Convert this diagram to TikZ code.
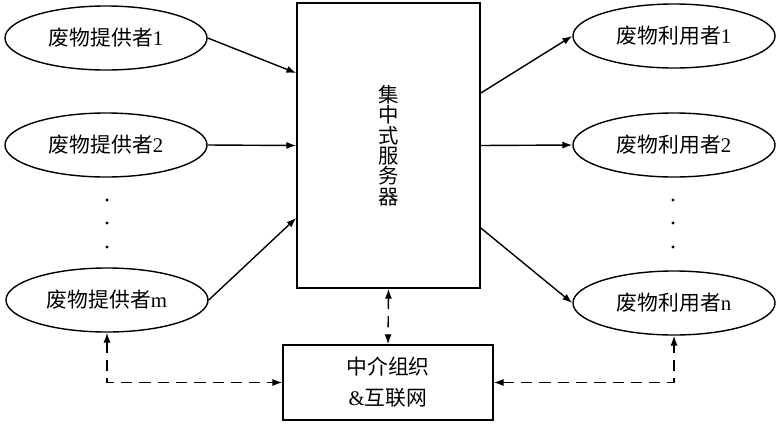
\documentclass[tikz,border=0pt]{standalone}
\usepackage{fontspec}
\setmainfont{Liberation Serif}
\newfontfamily\cjk{Noto Sans CJK SC}
\usetikzlibrary{shapes.geometric,arrows.meta}

\begin{document}
\begin{tikzpicture}[x=0.025cm, y=-0.025cm,
    >={Latex[length=7pt,width=5pt]},
    party/.style={ellipse, draw, line width=1pt, minimum width=5.05cm, minimum height=1.6cm, inner sep=0pt, font=\fontsize{14.8}{16}\selectfont},
    box/.style={draw, line width=1pt, inner sep=0pt, align=center},
    link/.style={->, line width=1pt},
    dlink/.style={<->, line width=1pt, dash pattern=on 8pt off 5pt}]
    \useasboundingbox (0,0) rectangle (783,435);

    % Draw suppliers
    \node[party] (p1) at (106,38) {{\cjk 废物提供者}1};
    \node[party] (p2) at (106,145) {{\cjk 废物提供者}2};
    \node[party] (pm) at (107,300) {{\cjk 废物提供者}m};

    % Draw users
    \node[party] (u1) at (674,36) {{\cjk 废物利用者}1};
    \node[party] (u2) at (674,145) {{\cjk 废物利用者}2};
    \node[party] (un) at (674,303) {{\cjk 废物利用者}n};

    % Draw server and agent boxes
    \node[box, minimum width=4.575cm, minimum height=7.125cm, font=\cjk\fontsize{14.5}{14.5}\selectfont] (server) at (388.5,145.5) {集\\中\\式\\服\\务\\器};
    \node[box, minimum width=5.25cm, minimum height=1.875cm, font=\fontsize{14.8}{22}\selectfont] (agent) at (388,382.5) {{\cjk 中介组织}\\\&{\cjk 互联网}};

    % Draw dots
    \foreach \y in {200,223,247} {
        \fill (107,\y) circle (1.1pt);
        \fill (673,\y) circle (1.1pt);
    }

    % Draw solid arrows
    \draw[link] (p1.east) -- ([yshift=1.81cm]server.west);
    \draw[link] (p2.east) -- (server.west);
    \draw[link] (pm.east) -- ([yshift=-1.81cm]server.west);
    \draw[link] ([yshift=1.31cm]server.east) -- (u1.west);
    \draw[link] (server.east) -- (u2.west);
    \draw[link] ([yshift=-2.06cm]server.east) -- (un.west);

    % Draw dashed arrows
    \draw[dlink] (server.south) -- (agent.north);
    \draw[dlink] (pm.south) |- (agent.west);
    \draw[dlink] (agent.east) -| (un.south);
\end{tikzpicture}
\end{document}
